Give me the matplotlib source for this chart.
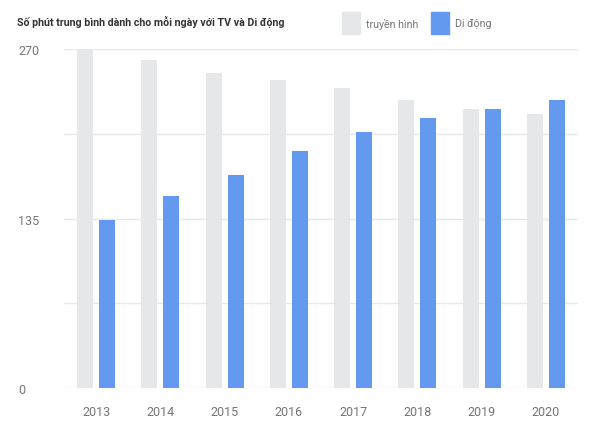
import matplotlib
matplotlib.use('Agg')
import matplotlib.pyplot as plt
import numpy as np
from matplotlib.patches import Rectangle

plt.rcParams['font.family'] = ['Roboto', 'DejaVu Sans']

years = ['2013', '2014', '2015', '2016', '2017', '2018', '2019', '2020']
tv = [270, 261, 251, 245, 239, 229, 222, 218]
mobile = [134, 153, 170, 189, 204, 215, 222, 229]
yticks = [0, 135, 270]
grid_vals = [0, 67.5, 135, 202.5, 270]

tv_col = '#e6e7e8'
mob_col = '#6399ee'
txt_col = '#757575'

fig = plt.figure(figsize=(6, 4.27), dpi=100)
ax = fig.add_axes([0.1067, 0.0883, 0.8566, 0.7947])

x = np.arange(len(years))
w = 0.25
off = 0.171
ax.bar(x - off, tv, w, color=tv_col, zorder=2)
ax.bar(x + off, mobile, w, color=mob_col, zorder=2)

for g in grid_vals:
    ax.axhline(g, color='#e8e8e8', lw=1, zorder=1)

ax.set_xlim(-0.5, len(years) - 0.5)
ax.set_ylim(0, 270)
ax.set_xticks(x)
ax.set_xticklabels(years)
ax.set_yticks(yticks)
ax.set_yticklabels([str(v) for v in yticks])
for s in ax.spines.values():
    s.set_visible(False)
ax.tick_params(axis='both', length=0, colors=txt_col, labelsize=9)
ax.tick_params(axis='x', pad=12)
ax.tick_params(axis='y', pad=33)
for lb in ax.get_yticklabels():
    lb.set_horizontalalignment('left')

fig.text(17 / 600, 1 - 22 / 427, 'Số phút trung bình dành cho mỗi ngày với TV và Di động',
         fontsize=7.7, fontweight='bold', color='#333333', va='center', ha='left')

# legend
fig.patches.append(Rectangle((342 / 600, 1 - 35 / 427), 18 / 600, 22 / 427,
                             transform=fig.transFigure, color=tv_col))
fig.text(366 / 600, 1 - 24 / 427, 'truyền hình', fontsize=7.7, color=txt_col, va='center')
fig.patches.append(Rectangle((431 / 600, 1 - 35 / 427), 18 / 600, 22 / 427,
                             transform=fig.transFigure, color=mob_col))
fig.text(455 / 600, 1 - 24 / 427, 'Di động', fontsize=7.7, color=txt_col, va='center')

fig.savefig('out.png', dpi=100)
